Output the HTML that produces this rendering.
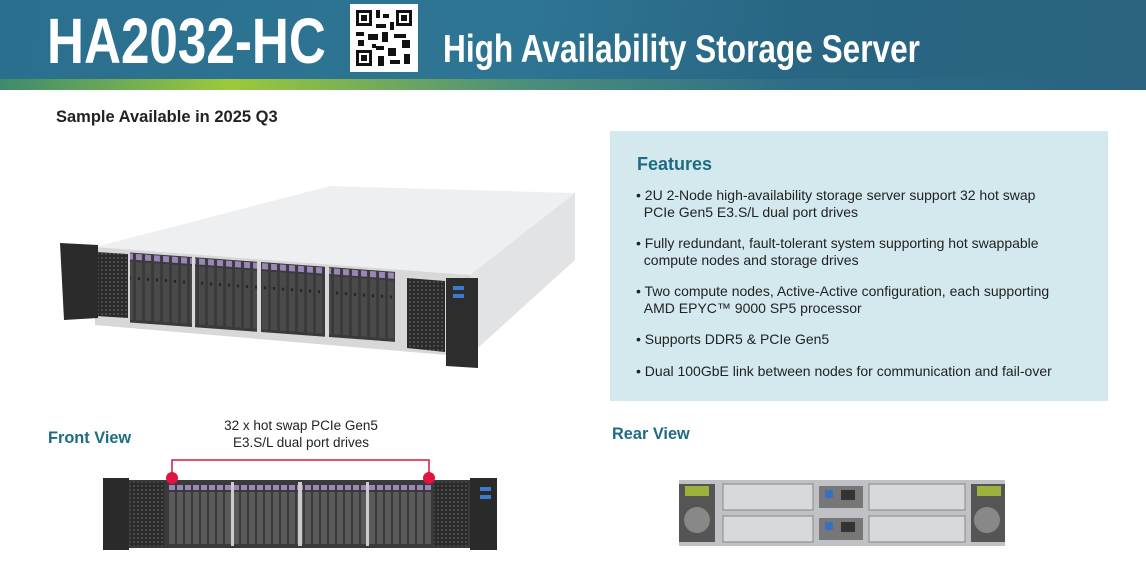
<!DOCTYPE html>
<html><head><meta charset="utf-8"><style>
body{margin:0;width:1146px;height:576px;background:#fff;position:relative;overflow:hidden;font-family:"Liberation Sans",sans-serif}
.hdr{position:absolute;left:0;top:0;width:1146px;height:90px;background:linear-gradient(100deg,#2b6f8e 0%,#2e7594 45%,#286683 70%,#2a627f 100%)}
.strip{position:absolute;left:0;top:79px;width:1146px;height:11px;background:linear-gradient(90deg,#3d8a6e 0%,#9cc93a 20%,#4e8f7a 45%,#2d6c88 70%,#2a627f 100%)}
.t1{position:absolute;left:47px;top:4px;color:#fff;font:bold 64px "Liberation Sans",sans-serif;transform:scaleX(0.8);transform-origin:0 0;white-space:nowrap}
.t2{position:absolute;left:443px;top:28px;color:#fff;font:bold 39px "Liberation Sans",sans-serif;transform:scaleX(0.81);transform-origin:0 0;white-space:nowrap}
.qr{position:absolute;left:350px;top:4px;width:68px;height:68px;background:#fff}
.lbl{position:absolute;font-weight:bold;color:#1f6c82;font-size:17px;transform:scaleX(0.96);transform-origin:0 0}
.feat{position:absolute;left:610px;top:131px;width:498px;height:270px;background:#d4e9ee}
.feat h3{margin:0;position:absolute;left:27px;top:23px;font:bold 18px "Liberation Sans",sans-serif;color:#1f6c82}
.feat p{margin:0;position:absolute;left:26px;font-size:14px;line-height:17px;color:#222;white-space:nowrap}
</style></head><body>
<div class="hdr"></div><div class="strip"></div>
<div class="t1">HA2032-HC</div>
<div class="qr"><svg width="68" height="68"><g fill="#111">
<rect x="6" y="6" width="16" height="16"/><rect x="46" y="6" width="16" height="16"/><rect x="6" y="46" width="16" height="16"/>
<rect x="9" y="9" width="10" height="10" fill="#fff"/><rect x="49" y="9" width="10" height="10" fill="#fff"/><rect x="9" y="49" width="10" height="10" fill="#fff"/>
<rect x="11" y="11" width="6" height="6"/><rect x="51" y="11" width="6" height="6"/><rect x="11" y="51" width="6" height="6"/>
<rect x="26" y="6" width="4" height="8"/><rect x="33" y="10" width="6" height="4"/><rect x="26" y="20" width="10" height="4"/><rect x="40" y="18" width="4" height="8"/>
<rect x="6" y="28" width="8" height="4"/><rect x="18" y="30" width="10" height="6"/><rect x="32" y="28" width="6" height="10"/><rect x="44" y="30" width="12" height="4"/>
<rect x="52" y="36" width="8" height="8"/><rect x="26" y="42" width="8" height="4"/><rect x="38" y="44" width="8" height="8"/><rect x="28" y="52" width="6" height="10"/>
<rect x="40" y="56" width="10" height="4"/><rect x="54" y="50" width="6" height="10"/><rect x="8" y="36" width="6" height="6"/><rect x="22" y="40" width="4" height="4"/>
</g></svg></div>
<div class="t2">High Availability Storage Server</div>
<div style="position:absolute;left:56px;top:108px;font:bold 16.5px 'Liberation Sans',sans-serif;color:#222">Sample Available in 2025 Q3</div>

<svg style="position:absolute;left:0;top:0" width="610" height="576">
<defs><pattern id="bay" x="0" y="243" width="9" height="70" patternUnits="userSpaceOnUse"><rect width="9" height="70" fill="#3a3a3a"/><rect x="1" y="1" width="6" height="6" fill="#9a86b8"/><rect x="1" y="9" width="6" height="58" fill="#4a4a4a"/><rect x="3" y="24" width="2" height="3" fill="#222"/></pattern>
<pattern id="bay2" x="0" y="484" width="8" height="62" patternUnits="userSpaceOnUse"><rect width="8" height="62" fill="#3a3a3a"/><rect x="1" y="1" width="6" height="5" fill="#9a86b8"/><rect x="1" y="8" width="6" height="52" fill="#5a5a5a"/></pattern>
<pattern id="mesh" width="4" height="4" patternUnits="userSpaceOnUse"><rect width="4" height="4" fill="#2a2a2a"/><circle cx="2" cy="2" r="1" fill="#555"/></pattern></defs>
<polygon points="95,247 330,186 575,193 470,275" fill="#eeeff0"/>
<polygon points="470,275 575,193 575,260 470,355" fill="#e2e3e5"/>
<polygon points="95,247 470,275 470,357 95,325" fill="#d8d8d8"/>
<polygon points="96,252 128,254 128,318 96,316" fill="url(#mesh)"/>
<polygon points="407,278 445,281 445,352 407,348" fill="url(#mesh)"/>
<g transform="matrix(1,0.073,0,1,0,0)">
<rect x="130" y="243" width="62" height="70" fill="url(#bay)"/>
<rect x="195" y="243" width="62" height="70" fill="url(#bay)"/>
<rect x="261" y="243" width="64" height="70" fill="url(#bay)"/>
<rect x="329" y="243" width="66" height="70" fill="url(#bay)"/>
</g>
<polygon points="60,243 98,245 98,318 64,320" fill="#2b2b2b"/>
<polygon points="446,278 478,278 478,368 446,366" fill="#2d2d2d"/>
<rect x="453" y="286" width="11" height="4" fill="#3b7bd0"/><rect x="453" y="294" width="11" height="4" fill="#3b7bd0"/>
<rect x="103" y="480" width="394" height="68" fill="#3a3a3a"/>
<rect x="103" y="478" width="26" height="72" fill="#2a2a2a"/><rect x="470" y="478" width="27" height="72" fill="#2a2a2a"/>
<rect x="130" y="482" width="34" height="64" fill="url(#mesh)"/><rect x="434" y="482" width="34" height="64" fill="url(#mesh)"/>
<rect x="167" y="484" width="64" height="62" fill="url(#bay2)"/><rect x="234" y="484" width="64" height="62" fill="url(#bay2)"/>
<rect x="302" y="484" width="64" height="62" fill="url(#bay2)"/><rect x="369" y="484" width="64" height="62" fill="url(#bay2)"/>
<rect x="231" y="482" width="3" height="64" fill="#ccc"/><rect x="298" y="482" width="4" height="64" fill="#ccc"/><rect x="366" y="482" width="3" height="64" fill="#ccc"/>
<rect x="480" y="487" width="11" height="4" fill="#3b7bd0"/><rect x="480" y="495" width="11" height="4" fill="#3b7bd0"/>
<polyline points="172,478 172,460 429,460 429,478" fill="none" stroke="#d8163f" stroke-width="1.5"/>
<circle cx="172" cy="478" r="6" fill="#e0143c"/><circle cx="429" cy="478" r="6" fill="#e0143c"/>
</svg>
<div class="lbl" style="left:48px;top:428px">Front View</div>
<div style="position:absolute;left:196px;top:417px;width:210px;text-align:center;font-size:13.5px;line-height:17px;color:#222">32 x hot swap PCIe Gen5<br>E3.S/L dual port drives</div>
<div class="lbl" style="left:612px;top:424px">Rear View</div>
<svg style="position:absolute;left:679px;top:478px" width="328" height="70">
<rect x="0" y="2" width="326" height="66" fill="#bfc1c4"/>
<rect x="0" y="6" width="36" height="58" fill="#555"/><circle cx="18" cy="42" r="13" fill="#888"/><rect x="6" y="8" width="24" height="10" fill="#9bb33a"/>
<rect x="292" y="6" width="34" height="58" fill="#555"/><circle cx="308" cy="42" r="13" fill="#888"/><rect x="298" y="8" width="24" height="10" fill="#9bb33a"/>
<rect x="44" y="6" width="90" height="26" fill="#d8d9db" stroke="#888"/><rect x="44" y="38" width="90" height="26" fill="#d8d9db" stroke="#888"/>
<rect x="190" y="6" width="96" height="26" fill="#d8d9db" stroke="#888"/><rect x="190" y="38" width="96" height="26" fill="#d8d9db" stroke="#888"/>
<rect x="140" y="8" width="44" height="22" fill="#777"/><rect x="140" y="40" width="44" height="22" fill="#777"/>
<rect x="146" y="12" width="8" height="8" fill="#3b6fc0"/><rect x="162" y="12" width="14" height="10" fill="#333"/><rect x="146" y="44" width="8" height="8" fill="#3b6fc0"/><rect x="162" y="44" width="14" height="10" fill="#333"/>
</svg>

<div class="feat"><h3>Features</h3>
<p style="top:56px">• 2U 2-Node high-availability storage server support 32 hot swap<br>&nbsp;&nbsp;PCIe Gen5 E3.S/L dual port drives</p>
<p style="top:104px">• Fully redundant, fault-tolerant system supporting hot swappable<br>&nbsp;&nbsp;compute nodes and storage drives</p>
<p style="top:152px">• Two compute nodes, Active-Active configuration, each supporting<br>&nbsp;&nbsp;AMD EPYC™ 9000 SP5 processor</p>
<p style="top:200px">• Supports DDR5 &amp; PCIe Gen5</p>
<p style="top:232px">• Dual 100GbE link between nodes for communication and fail-over</p>
</div>
</body></html>
